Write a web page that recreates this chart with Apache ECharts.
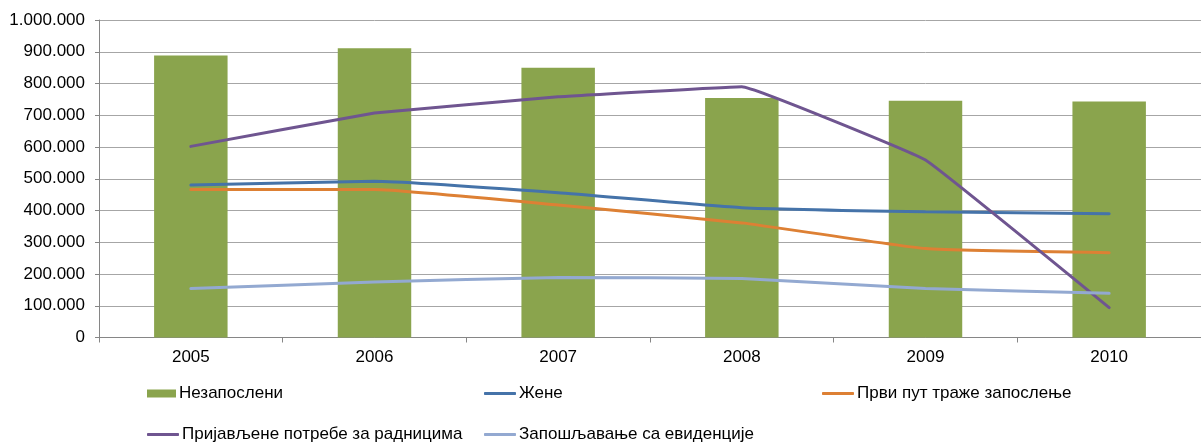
<!DOCTYPE html>
<html>
<head>
<meta charset="utf-8">
<style>
html,body{margin:0;padding:0;background:#fff;}
#chart{width:1201px;height:443px;}
</style>
<script src="https://cdn.jsdelivr.net/npm/echarts@6/dist/echarts.min.js"></script>
</head>
<body>
<div id="chart"></div>
<script>
const categories = ['2005', '2006', '2007', '2008', '2009', '2010'];
const nezaposleni = [888000, 911000, 850000, 754000, 746000, 743000];
const zene = [480000, 492000, 456000, 409000, 396000, 390000];
const prviPut = [466000, 466000, 417000, 361000, 280000, 267000];
const prijavljene = [602000, 707000, 758000, 790000, 559000, 94000];
const zaposljavanje = [154000, 175000, 189000, 186000, 154000, 139000];
const seriesNames = ['Незапослени', 'Жене', 'Први пут траже запослење', 'Пријављене потребе за радницима', 'Запошљавање са евиденције'];

const FONT = '"Liberation Sans", Arial, sans-serif';
const colors = ['#8AA44D', '#4573A9', '#DD8034', '#6F5590', '#93A9D1'];

function fmt(v) {
  return String(v).replace(/\B(?=(\d{3})+(?!\d))/g, '.');
}

const legendPos = [
  {left: 147, top: 385},
  {left: 484, top: 385},
  {left: 822, top: 385},
  {left: 147, top: 426},
  {left: 484, top: 426}
];

const legends = seriesNames.map((n, i) => ({
  data: [n],
  left: legendPos[i].left,
  top: legendPos[i].top,
  icon: i === 0 ? 'rect' : 'roundRect',
  itemWidth: i === 0 ? 29 : 32,
  itemHeight: i === 0 ? 8 : 3,
  itemGap: 0,
  padding: 0,
  textStyle: {fontFamily: FONT, fontSize: 17, color: '#000', padding: [0, 0, 0, -2]},
  selectedMode: false
}));

const lineData = [zene, prviPut, prijavljene, zaposljavanje];
const smoothness = [0.12, 0.12, 0.06, 0.12];

const chart = echarts.init(document.getElementById('chart'), null, {renderer: 'canvas'});
chart.setOption({
  animation: false,
  color: colors,
  legend: legends,
  grid: {left: 99, top: 20, width: 1106, height: 317.5, containLabel: false},
  xAxis: {
    type: 'category',
    data: categories,
    boundaryGap: true,
    axisLine: {lineStyle: {color: '#868686', width: 1}},
    axisTick: {show: true, length: 5, lineStyle: {color: '#868686'}},
    axisLabel: {fontFamily: FONT, fontSize: 17, color: '#000', margin: 11}
  },
  yAxis: {
    type: 'value',
    min: 0,
    max: 1000000,
    interval: 100000,
    axisLine: {show: true, lineStyle: {color: '#868686', width: 1}},
    axisTick: {show: true, length: 4, lineStyle: {color: '#868686'}},
    splitLine: {show: true, lineStyle: {color: '#A6A6A6', width: 1}},
    axisLabel: {fontFamily: FONT, fontSize: 17, color: '#000', margin: 14, formatter: fmt}
  },
  series: [
    {
      name: seriesNames[0],
      type: 'bar',
      data: nezaposleni,
      barCategoryGap: '60%',
      itemStyle: {color: colors[0]},
      z: 1
    }
  ].concat(lineData.map((d, i) => ({
    name: seriesNames[i + 1],
    type: 'line',
    data: d,
    smooth: smoothness[i],
    symbol: 'none',
    lineStyle: {color: colors[i + 1], width: 3, cap: 'round'},
    itemStyle: {color: colors[i + 1]},
    z: 3
  })))
});
</script>
</body>
</html>
